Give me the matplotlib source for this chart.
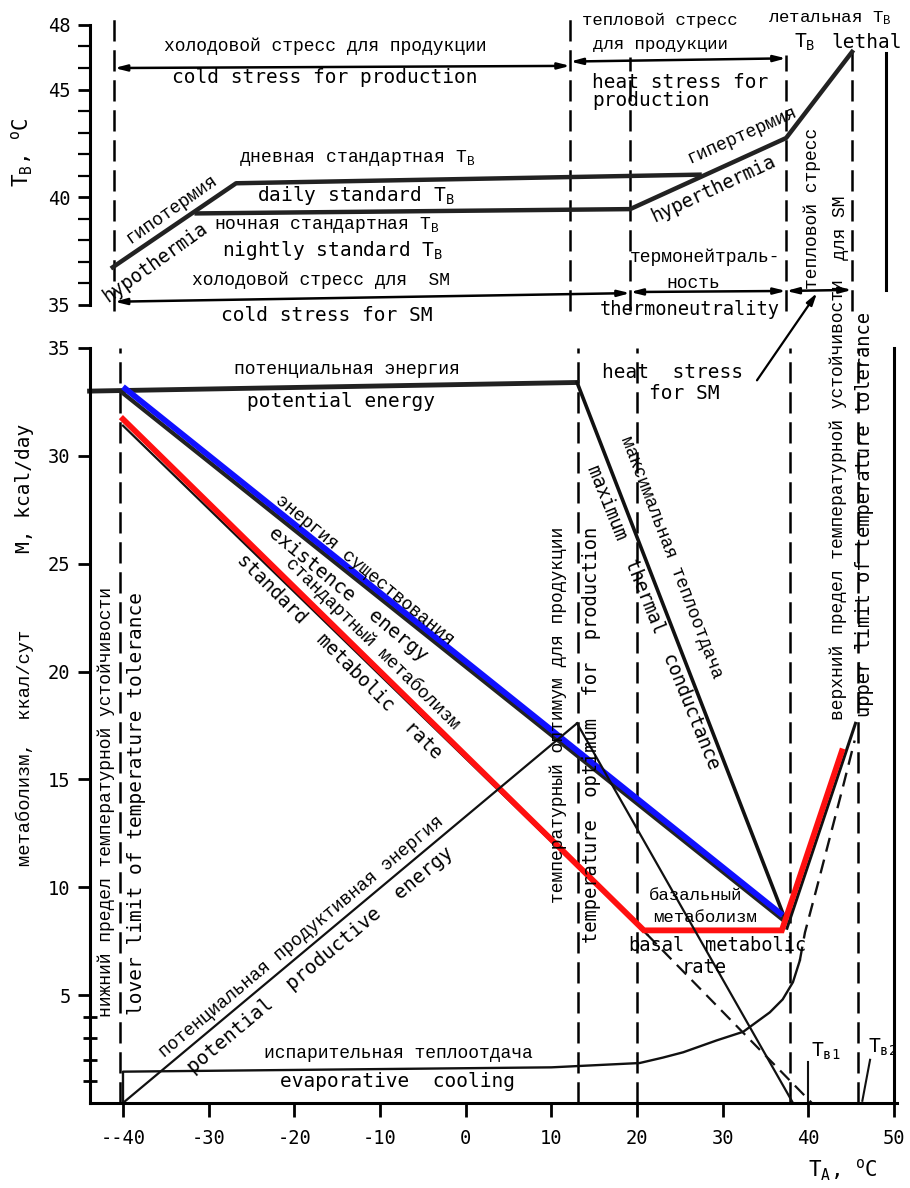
import matplotlib
matplotlib.use("Agg")
import matplotlib.pyplot as plt

plt.rcParams['font.family'] = ['DejaVu Sans Mono']
plt.rcParams['mathtext.default'] = 'regular'

RU = 'Liberation Mono'
EN = 'DejaVu Sans Mono'

# axes ticks
x_ticks = [-40, -30, -20, -10, 0, 10, 20, 30, 40, 50]
x_ticklabels = ['--40', '-30', '-20', '-10', '0', '10', '20', '30', '40', '50']
m_ticks = [5, 10, 15, 20, 25, 30, 35]
m_minor = [1, 2, 3, 4]
tb_ticks = [35, 40, 45, 48]
tb_minor = [36, 37, 38, 39, 41, 42, 43, 44, 46, 47]

# lower panel: metabolism M, kcal/day vs T_A
potential_x = [-43.9, 13.0]
potential_y = [33.0, 33.4]
conductance_x = [13.0, 37.3]
conductance_y = [33.4, 8.5]
existence_x = [-40.0, 37.0]
existence_y = [33.2, 8.7]
existence_ink_x = [-40.0, 37.3]
existence_ink_y = [32.9, 8.4]
standard_x = [-40.0, 20.8, 36.9, 43.9]
standard_y = [31.7, 8.0, 8.0, 16.3]
standard_ink_x = [-40.0, 21.2]
standard_ink_y = [31.4, 7.8]
standard_ext_x = [21.2, 40.4]
standard_ext_y = [7.8, 0.0]
upper_x = [37.5, 45.5]
upper_y = [8.1, 17.6]
basal_x = [13.0, 38.2]
basal_y = [17.6, 0.0]
productive_x = [-40.0, 13.0]
productive_y = [0.0, 17.6]
evap_x = [-40.0, -40.0, 10.0, 20.3, 23.0, 25.4, 29.3, 32.4, 35.5, 37.0, 38.2, 39.0]
evap_y = [0.0, 1.45, 1.65, 1.85, 2.1, 2.35, 2.9, 3.3, 4.2, 4.8, 5.6, 6.6]
evap_dash_x = [39.0, 39.6, 41.0, 42.5, 44.0, 45.4]
evap_dash_y = [6.6, 7.9, 10.0, 12.3, 14.6, 16.8]
tb1_x = [40.0, 40.0]
tb1_y = [0.0, 1.9]
tb2_x = [46.3, 47.2]
tb2_y = [0.1, 2.0]
limits_low = [-40.4, 13.1, 20.0, 37.9, 45.8]

# upper panel: body temperature T_B vs T_A
daily_x = [-41.2, -26.8, 27.3]
daily_y = [36.75, 40.65, 41.05]
nightly_x = [-31.4, 19.2, 37.4, 45.1]
nightly_y = [39.25, 39.45, 42.75, 46.75]
limits_up = [-41.0, 12.2, 19.2, 37.4, 45.1]
limits_up_top = [48.3, 48.4, 46.5, 46.6, 46.75]

fig = plt.figure(figsize=(9.1, 11.88), dpi=100)
ax = fig.add_axes([0.0989, 0.0716, 0.8864, 0.6355])
axt = fig.add_axes([0.0989, 0.7433, 0.8864, 0.2357])
for a in (ax, axt):
    a.set_xlim(-43.85, 50.3)
    a.spines['top'].set_visible(False)
    a.spines['right'].set_visible(False)
    a.spines['left'].set_linewidth(2.2)
    a.patch.set_alpha(0)
ax.set_ylim(0, 35)
axt.set_ylim(35, 48)
axt.spines['bottom'].set_visible(False)
ax.spines['bottom'].set_linewidth(2.2)

ax.set_xticks(x_ticks)
ax.set_xticklabels(x_ticklabels, fontsize=13.5)
ax.set_yticks(m_ticks)
ax.set_yticks(m_minor, minor=True)
ax.tick_params(axis='x', direction='out', length=10, width=2, pad=9)
ax.tick_params(axis='y', which='major', direction='out', length=9, width=2, labelsize=13.5, pad=5)
ax.tick_params(axis='y', which='minor', direction='inout', length=10, width=2)
axt.set_xticks([])
axt.set_yticks(tb_ticks)
axt.set_yticks(tb_minor, minor=True)
axt.tick_params(axis='y', which='major', direction='out', length=9, width=2, labelsize=13.5, pad=5)
axt.tick_params(axis='y', which='minor', direction='out', length=9, width=1.6)

dash = (8.5, 3.5)
# vertical limit lines
for x in limits_low:
    ax.plot([x, x], [0, 35], color='black', lw=1.8, dashes=dash, clip_on=False)
for x, top in zip(limits_up, limits_up_top):
    axt.plot([x, x], [34.7, top], color='black', lw=1.8, dashes=dash, clip_on=False)
ax.plot([50.0, 50.0], [0, 35], color='black', lw=2.2, clip_on=False)
axt.plot([49.1, 49.1], [35.7, 46.7], color='black', lw=2.2)

# lower panel curves
ax.plot(potential_x, potential_y, color='#222222', lw=3.5, clip_on=False)
ax.plot(conductance_x, conductance_y, color='#111111', lw=2.6)
ax.plot(existence_ink_x, existence_ink_y, color='#222222', lw=3)
ax.plot(existence_x, existence_y, color='#1010ff', lw=4.2, solid_capstyle='butt')
ax.plot(standard_ink_x, standard_ink_y, color='#111111', lw=1.6)
ax.plot(standard_ext_x, standard_ext_y, color='#111111', lw=1.6, dashes=(6, 3.5))
ax.plot(upper_x, upper_y, color='#111111', lw=2.2)
ax.plot(standard_x, standard_y, color='#ff1010', lw=4.2, solid_joinstyle='miter')
ax.plot(basal_x, basal_y, color='#111111', lw=1.6)
ax.plot(productive_x, productive_y, color='#111111', lw=1.6)
ax.plot(evap_x, evap_y, color='#111111', lw=1.7)
ax.plot(evap_dash_x, evap_dash_y, color='#111111', lw=1.7, dashes=(6, 3.5))
ax.plot(tb1_x, tb1_y, color='#111111', lw=1.5)
ax.plot(tb2_x, tb2_y, color='#111111', lw=1.5)

# upper panel curves
axt.plot(daily_x, daily_y, color='#222222', lw=3.2)
axt.plot(nightly_x, nightly_y, color='#222222', lw=3.2)


def span(a, x0, x1, y0, y1):
    a.annotate('', xy=(x1, y1), xytext=(x0, y0),
               arrowprops=dict(arrowstyle='<|-|>,head_length=0.7,head_width=0.18',
                               color='black', lw=1.8, shrinkA=0, shrinkB=0))


span(axt, -41.0, 12.2, 46.0, 46.1)
span(axt, 12.2, 37.4, 46.3, 46.45)
span(axt, -41.0, 19.2, 35.15, 35.55)
span(axt, 19.2, 37.4, 35.6, 35.65)
span(axt, 37.4, 45.1, 35.65, 35.7)

axt.annotate('', xy=(41.0, 35.55), xycoords='data',
             xytext=(34.0, 33.5), textcoords=ax.transData,
             arrowprops=dict(arrowstyle='-|>,head_length=0.7,head_width=0.2',
                             color='black', lw=1.6, shrinkA=0, shrinkB=0),
             annotation_clip=False)


def ru(a, x, y, s, size=13, rot=0, ha='center'):
    a.text(x, y, s, family=RU, fontsize=size, rotation=rot, ha=ha, va='center',
           rotation_mode='anchor')


def en(a, x, y, s, size=14, rot=0, ha='center'):
    a.text(x, y, s, family=EN, fontsize=size, rotation=rot, ha=ha, va='center',
           rotation_mode='anchor')


# upper panel labels
ru(axt, -16.4, 47.0, 'холодовой стресс для продукции')
en(axt, -16.4, 45.55, 'cold stress for production')
ru(axt, 22.7, 48.2, 'тепловой стресс', size=12.5)
ru(axt, 22.7, 47.07, 'для продукции', size=12.5)
en(axt, 14.75, 45.35, 'heat stress for', ha='left')
en(axt, 14.75, 44.5, 'production', ha='left')
ru(axt, 42.5, 48.3, 'летальная T$_B$', size=12.5)
en(axt, 39.6, 47.2, 'T$_B$', size=14)
en(axt, 46.8, 47.2, 'lethal', size=14)
ru(axt, -12.7, 41.8, 'дневная стандартная T$_B$')
en(axt, -12.8, 40.1, 'daily standard T$_B$')
ru(axt, -16.2, 38.7, 'ночная стандартная T$_B$')
en(axt, -15.5, 37.55, 'nightly standard T$_B$')
ru(axt, -16.9, 36.15, 'холодовой стресс для  SM')
en(axt, -16.2, 34.5, 'cold stress for SM')
ru(axt, 28.0, 37.2, 'термонейтраль-')
ru(axt, 26.6, 36.0, 'ность')
en(axt, 26.1, 34.77, 'thermoneutrality', size=13.5)
ru(axt, -34.3, 39.45, 'гипотермия', rot=35)
en(axt, -36.3, 37.0, 'hypothermia', size=13.5, rot=35.5)
ru(axt, 32.25, 42.9, 'гипертермия', rot=24)
en(axt, 28.9, 40.4, 'hyperthermia', size=13.5, rot=25)
ru(axt, 40.4, 39.5, 'тепловой стресс', rot=90)
ru(axt, 43.7, 38.6, 'для SM', rot=90)

# lower panel labels
ru(ax, -13.85, 34.0, 'потенциальная энергия')
en(ax, -14.6, 32.5, 'potential energy')
en(ax, 24.1, 33.85, 'heat  stress')
en(ax, 25.5, 32.9, 'for SM')
ru(ax, -11.8, 24.7, 'энергия существования', rot=-39.5)
en(ax, -13.7, 23.6, 'existence  energy', rot=-39.5)
ru(ax, -10.9, 21.3, 'стандартный метаболизм', rot=-44.5)
en(ax, -14.7, 20.7, 'standard  metabolic  rate', size=13.5, rot=-45)
ru(ax, 24.0, 25.3, 'максимальная теплоотдача', rot=-69)
en(ax, 21.9, 22.5, 'maximum  thermal  conductance', size=13.5, rot=-68)
ru(ax, 10.8, 18.0, 'температурный оптимум для продукции', rot=90)
en(ax, 14.7, 17.06, 'temperature  optimum  for  production', size=13.5, rot=90)
ru(ax, -41.9, 13.95, 'нижний предел температурной устойчивости', rot=90)
en(ax, -38.4, 13.9, 'lover limit of temperature tolerance', rot=90)
ru(ax, 43.5, 27.95, 'верхний предел температурной устойчивости', rot=90)
en(ax, 46.6, 27.3, 'upper limit of temperature tolerance', size=13.5, rot=90)
ru(ax, -19.2, 7.7, 'потенциальная продуктивная энергия', rot=40)
en(ax, -17.0, 6.63, 'potential  productive  energy', rot=40)
ru(ax, -7.9, 2.3, 'испарительная теплоотдача')
en(ax, -7.9, 1.0, 'evaporative  cooling')
ru(ax, 26.8, 9.6, 'базальный', size=12.5)
ru(ax, 27.9, 8.6, 'метаболизм', size=12.5)
en(ax, 22.3, 7.3, 'basal', size=13.5)
en(ax, 33.8, 7.3, 'metabolic', size=13.5)
en(ax, 27.8, 6.3, 'rate', size=13.5)
en(ax, 40.3, 2.4, 'T$_{в1}$', size=14, ha='left')
en(ax, 47.0, 2.6, 'T$_{в2}$', size=14, ha='left')

# axis titles
fig.text(22 / 910, 1 - 152 / 1188, 'T$_B$, $^o$C', family=EN, fontsize=15,
         rotation=90, ha='center', va='center')
fig.text(25 / 910, 1 - 488 / 1188, 'M, kcal/day', family=EN, fontsize=14,
         rotation=90, ha='center', va='center')
fig.text(25 / 910, 1 - 748 / 1188, 'метаболизм,  ккал/сут', family=RU, fontsize=13.5,
         rotation=90, ha='center', va='center')
fig.text(843 / 910, 1 - 1170 / 1188, 'T$_A$, $^o$C', family=EN, fontsize=15,
         ha='center', va='center')

fig.savefig('out.png', dpi=100)
